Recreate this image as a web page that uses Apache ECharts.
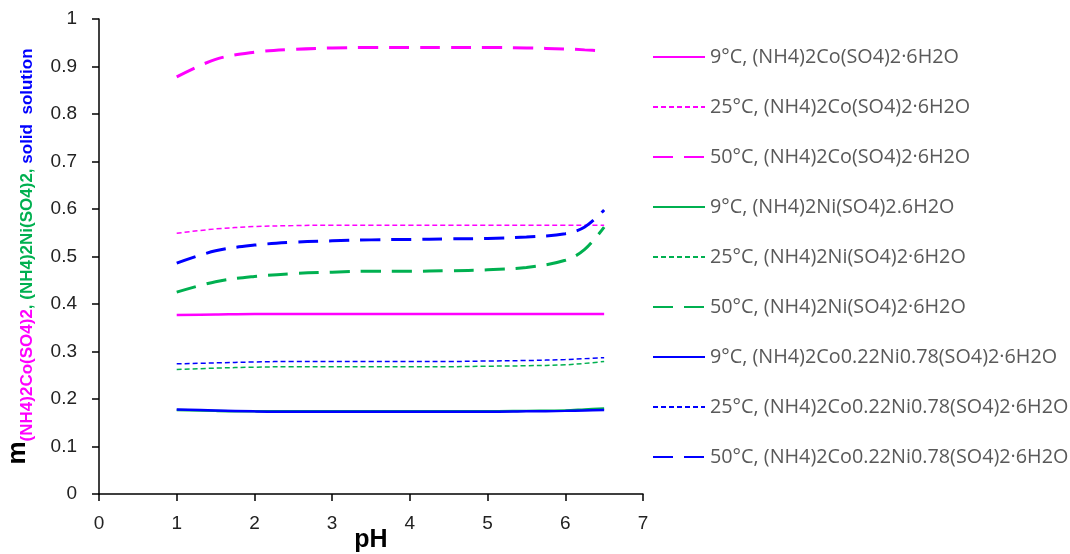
<!DOCTYPE html>
<html>
<head>
<meta charset="utf-8">
<script src="https://cdn.jsdelivr.net/npm/echarts@6/dist/echarts.min.js"></script>
<style>
    html, body { margin: 0; padding: 0; background: #fff; }
    #chart { width: 1070px; height: 554px; }
</style>
</head>
<body>
<div id="chart"></div>
<script>
    // pH values where the curves were read
    var pH = [1, 1.5, 2, 2.5, 3, 3.5, 4, 4.5, 5, 5.5, 6, 6.25, 6.5];

    // (NH4)2Co(SO4)2·6H2O
    var co9 = [0.377, 0.378, 0.379, 0.379, 0.379, 0.379, 0.379, 0.379, 0.379, 0.379, 0.379, 0.379, 0.379];
    var co25 = [0.549, 0.558, 0.563, 0.565, 0.566, 0.566, 0.566, 0.566, 0.566, 0.566, 0.566, 0.566, 0.566];
    var co50 = [0.878, 0.915, 0.930, 0.936, 0.939, 0.940, 0.940, 0.940, 0.940, 0.939, 0.937, 0.935, 0.933];
    // (NH4)2Ni(SO4)2·6H2O
    var ni9 = [0.177, 0.175, 0.174, 0.174, 0.174, 0.174, 0.174, 0.174, 0.174, 0.175, 0.176, 0.178, 0.180];
    var ni25 = [0.262, 0.265, 0.267, 0.268, 0.268, 0.268, 0.268, 0.268, 0.269, 0.270, 0.272, 0.275, 0.279];
    var ni50 = [0.425, 0.447, 0.458, 0.464, 0.467, 0.469, 0.469, 0.470, 0.472, 0.477, 0.492, 0.515, 0.562];
    // solid solution (NH4)2Co0.22Ni0.78(SO4)2·6H2O
    var ss9 = [0.178, 0.176, 0.174, 0.173, 0.173, 0.173, 0.173, 0.173, 0.173, 0.174, 0.175, 0.176, 0.177];
    var ss25 = [0.274, 0.276, 0.278, 0.279, 0.279, 0.279, 0.279, 0.279, 0.280, 0.281, 0.283, 0.285, 0.287];
    var ss50 = [0.486, 0.512, 0.524, 0.530, 0.533, 0.535, 0.536, 0.537, 0.538, 0.541, 0.548, 0.562, 0.598];

    var names = [
        '9°C, (NH4)2Co(SO4)2·6H2O',
        '25°C, (NH4)2Co(SO4)2·6H2O',
        '50°C, (NH4)2Co(SO4)2·6H2O',
        '9°C, (NH4)2Ni(SO4)2.6H2O',
        '25°C, (NH4)2Ni(SO4)2·6H2O',
        '50°C, (NH4)2Ni(SO4)2·6H2O',
        '9°C, (NH4)2Co0.22Ni0.78(SO4)2·6H2O',
        '25°C, (NH4)2Co0.22Ni0.78(SO4)2·6H2O',
        '50°C, (NH4)2Co0.22Ni0.78(SO4)2·6H2O'
    ];
    var values = [co9, co25, co50, ni9, ni25, ni50, ss9, ss25, ss50];

    var MAGENTA = '#ff00ff', GREEN = '#00b050', BLUE = '#0000ff';
    var colors = [MAGENTA, MAGENTA, MAGENTA, GREEN, GREEN, GREEN, BLUE, BLUE, BLUE];

    // line style per temperature: solid / short dash / long dash
    function styleFor(i) {
        var t = i % 3;
        if (t === 0) return { width: 2.5, type: 'solid' };
        if (t === 1) return { width: 1.5, type: [5, 3] };
        return { width: 3, type: [20, 11] };
    }

    function pairs(ys) {
        return pH.map(function (x, k) { return [x, ys[k]]; });
    }

    var series = names.map(function (n, i) {
        var ls = styleFor(i);
        return {
            name: n,
            type: 'line',
            smooth: 0.35,
            symbol: 'none',
            data: pairs(values[i]),
            itemStyle: { color: colors[i] },
            lineStyle: { color: colors[i], width: ls.width, type: ls.type }
        };
    });
    // draw the solid 9°C blue line on top so blue covers green like the original
    series.push(series.splice(6, 1)[0]);

    var myChart = echarts.init(document.getElementById('chart'));
    myChart.setOption({
        animation: false,
        backgroundColor: '#fff',
        grid: { left: 99, right: 427, top: 19, bottom: 60, containLabel: false, outerBoundsMode: 'none' },
        legend: {
            orient: 'vertical',
            left: 652,
            top: 47,
            padding: 0,
            itemWidth: 52,
            itemHeight: 14,
            itemGap: 30,
            itemStyle: { opacity: 0 },
            data: names,
            textStyle: { fontSize: 19.8, color: '#595959', fontFamily: 'Open Sans', lineHeight: 20 }
        },
        xAxis: {
            type: 'value',
            min: 0,
            max: 7,
            interval: 1,
            name: 'pH',
            nameLocation: 'middle',
            nameGap: 34,
            nameMoveOverlap: false,
            nameTextStyle: { fontSize: 25, fontWeight: 'bold', color: '#000', fontFamily: 'Liberation Sans' },
            axisLine: { lineStyle: { color: '#000', width: 1.5 } },
            axisTick: { show: true, length: 7, lineStyle: { color: '#000', width: 1.5 } },
            axisLabel: { fontSize: 19, color: '#222', margin: 20, fontFamily: 'Liberation Sans' },
            splitLine: { show: false }
        },
        yAxis: {
            type: 'value',
            min: 0,
            max: 1,
            interval: 0.1,
            name: '{m|m}{co|(NH4)2Co(SO4)2}{ni|, (NH4)2Ni(SO4)2, }{ss|solid  solution}',
            nameLocation: 'middle',
            nameRotate: 90,
            nameGap: 63,
            nameMoveOverlap: false,
            nameTextStyle: {
                rich: {
                    m: { fontSize: 26, fontWeight: 'bold', color: '#000', lineHeight: 28, verticalAlign: 'bottom', padding: [0, 0, 5, 0], fontFamily: 'Liberation Sans' },
                    co: { fontSize: 17, fontWeight: 'bold', color: MAGENTA, lineHeight: 19, verticalAlign: 'bottom', fontFamily: 'Liberation Sans' },
                    ni: { fontSize: 17, fontWeight: 'bold', color: GREEN, lineHeight: 19, verticalAlign: 'bottom', fontFamily: 'Liberation Sans' },
                    ss: { fontSize: 17, fontWeight: 'bold', color: BLUE, lineHeight: 19, verticalAlign: 'bottom', fontFamily: 'Liberation Sans' }
                }
            },
            axisLine: { show: true, lineStyle: { color: '#000', width: 1.5 } },
            axisTick: { show: true, length: 7, lineStyle: { color: '#000', width: 1.5 } },
            axisLabel: { fontSize: 19, color: '#222', margin: 22, fontFamily: 'Liberation Sans' },
            splitLine: { show: false }
        },
        series: series
    });
</script>
</body>
</html>
